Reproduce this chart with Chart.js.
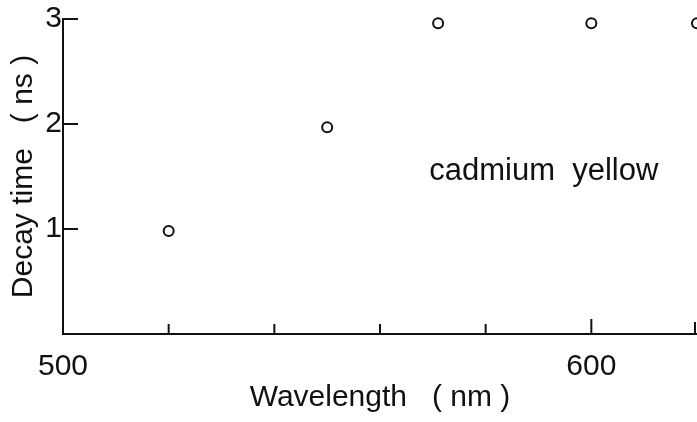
<!DOCTYPE html>
<html>
<head>
<meta charset="utf-8">
<script src="https://cdn.jsdelivr.net/npm/chart.js@4.4.0/dist/chart.umd.min.js"></script>
<style>
  html, body { margin: 0; padding: 0; background: #ffffff; }
  #wrap { width: 697px; height: 422px; }
</style>
</head>
<body>
<div id="wrap"><canvas id="c" width="697" height="422"></canvas></div>
<script>
// ---- data ----
const wavelengths = [520, 550, 571, 600, 620];          // nm
const decayTimes  = [0.98, 1.97, 2.96, 2.96, 2.96];     // ns
const xLabelledTicks = [500, 600];
const yLabelledTicks = [1, 2, 3];
const xTickMarks = [520, 540, 560, 580, 600, 620];
const yTickMarks = [1, 2, 3];
const annotationText = 'cadmium  yellow';

const INK = '#111111';
const FONT = '"Liberation Sans", Arial, sans-serif';

const insideTicks = {
  id: 'insideTicks',
  afterDraw(chart) {
    const {ctx, scales: {x, y}, chartArea} = chart;
    ctx.save();
    ctx.strokeStyle = INK;
    ctx.lineWidth = 2;
    xTickMarks.forEach(v => {
      const px = Math.min(x.getPixelForValue(v), chartArea.right - 2);
      const len = v === 600 ? 15 : (v === 620 ? 12 : 10);
      ctx.beginPath();
      ctx.moveTo(px, chartArea.bottom);
      ctx.lineTo(px, chartArea.bottom - len);
      ctx.stroke();
    });
    yTickMarks.forEach(v => {
      const py = y.getPixelForValue(v);
      ctx.beginPath();
      ctx.moveTo(chartArea.left, py);
      ctx.lineTo(chartArea.left + 15, py);
      ctx.stroke();
    });
    // annotation
    ctx.fillStyle = INK;
    ctx.font = '31px ' + FONT;
    ctx.textAlign = 'center';
    ctx.textBaseline = 'alphabetic';
    ctx.fillText(annotationText, x.getPixelForValue(591), y.getPixelForValue(1.47));
    ctx.restore();
  }
};

new Chart(document.getElementById('c'), {
  type: 'scatter',
  data: {
    datasets: [{
      data: wavelengths.map((w, i) => ({x: w, y: decayTimes[i]})),
      pointStyle: 'circle',
      pointRadius: 5,
      pointBorderWidth: 2,
      borderColor: INK,
      backgroundColor: '#ffffff',
      clip: false
    }]
  },
  options: {
    responsive: false,
    animation: false,
    layout: { autoPadding: false, padding: { top: 15, right: 0, left: 0, bottom: 0 } },
    plugins: { legend: { display: false }, tooltip: { enabled: false } },
    scales: {
      x: {
        type: 'linear',
        min: 500, max: 620,
        afterFit(s) { s.height = 88; s.paddingRight = 0; },
        ticks: {
          stepSize: 20,
          autoSkip: false,
          maxRotation: 0,
          padding: 15,
          color: INK,
          font: { family: FONT, size: 30 },
          callback: v => xLabelledTicks.includes(v) ? String(v) : ''
        },
        grid: { drawOnChartArea: false, drawTicks: false },
        border: { display: true, color: INK, width: 2 },
        title: {
          display: true,
          text: 'Wavelength   ( nm )',
          color: INK,
          font: { family: FONT, size: 30 },
          padding: { top: 0, bottom: 6 }
        }
      },
      y: {
        min: 0, max: 3,
        afterFit(s) { s.width = 63; },
        ticks: {
          stepSize: 1,
          padding: 1,
          color: INK,
          font: { family: FONT, size: 30 },
          callback: v => yLabelledTicks.includes(v) ? String(v) : ''
        },
        grid: { drawOnChartArea: false, drawTicks: false },
        border: { display: true, color: INK, width: 2 },
        title: {
          display: true,
          text: 'Decay time   ( ns )',
          color: INK,
          font: { family: FONT, size: 30 },
          padding: { top: 6, bottom: 0 }
        }
      }
    }
  },
  plugins: [insideTicks]
});
</script>
</body>
</html>
